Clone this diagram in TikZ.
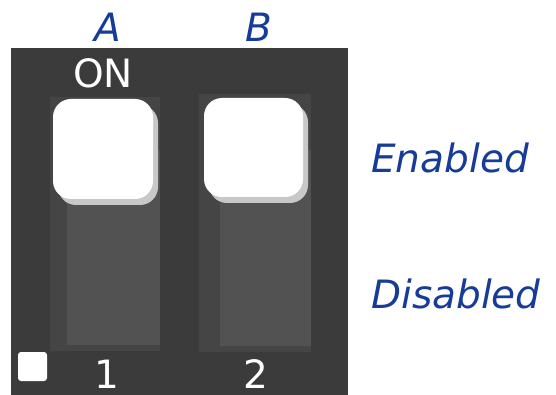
\documentclass[tikz,border=0pt]{standalone}
\usepackage{fontspec}
\setmainfont{DejaVu Sans}
\definecolor{board}{HTML}{3B3B3B}
\definecolor{slot}{HTML}{454545}
\definecolor{track}{HTML}{525252}
\definecolor{knobshade}{HTML}{C8C8C8}
\definecolor{labelblue}{HTML}{163C98}
\begin{document}
\begin{tikzpicture}[x=1pt,y=-1pt,
  bigtext/.style={inner sep=0pt,font=\fontsize{39}{39}\selectfont},
  switchname/.style={bigtext,text=labelblue,font=\fontsize{39}{39}\selectfont\itshape},
  boardtext/.style={bigtext,text=white},
  knob/.style={fill=white,rounded corners=18pt},
  knobshadow/.style={fill=knobshade,rounded corners=18pt}]
\useasboundingbox (0,0) rectangle (556,395);
% switch body
\fill[board] (11,48) rectangle (348,395);
% slots with their lighter tracks
\fill[slot] (50,97) rectangle (160,351);
\fill[track] (67,150) rectangle (160,345);
\fill[slot] (199,94) rectangle (311,352);
\fill[track] (220,150) rectangle (311,346);
% levers, both in the ON position
\fill[knobshadow] (58,105) rectangle (158,205);
\fill[knob] (53,99) rectangle (153,199);
\node[inner sep=0pt] (k1) at (103,149) {};
\fill[knobshadow] (209,104) rectangle (308,203);
\fill[knob] (204,98) rectangle (303,197);
\node[inner sep=0pt] (k2) at (253,147) {};
% pin-1 marker
\fill[white,rounded corners=3pt] (18,352) rectangle (47,381);
% labels
\node[switchname,anchor=base] (A) at (108,42) {A};
\node[switchname,anchor=base] (B) at (259,42) {B};
\node[boardtext,anchor=base] (on) at (103,88) {ON};
\node[boardtext,anchor=base] (n1) at (107,388) {1};
\node[boardtext,anchor=base] (n2) at (256,388) {2};
\node[switchname,anchor=base west] (en) at (371,173) {Enabled};
\node[switchname,anchor=base west] (dis) at (371,308) {Disabled};
\end{tikzpicture}
\end{document}
